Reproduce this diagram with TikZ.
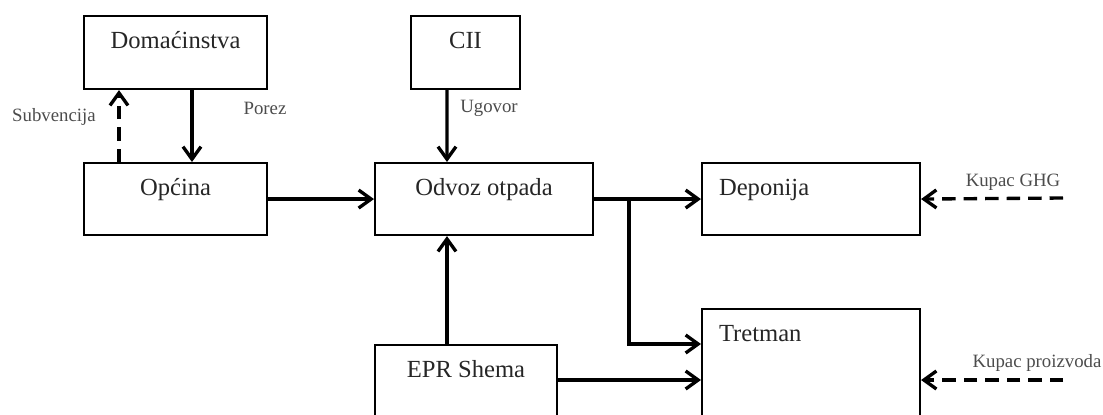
\documentclass[tikz,border=0pt]{standalone}
\usepackage{fontspec}
\setmainfont{Liberation Serif}
\usepackage{tikz}
\usetikzlibrary{arrows.meta,calc}

\begin{document}
\begin{tikzpicture}[x=0.02cm,y=-0.02cm,
        box/.style={draw,line width=1.2pt,inner sep=0pt,text height=0.64cm,text depth=0.82cm,
            font=\fontsize{14}{16}\selectfont,text=black!85},
        lbox/.style={box,align=left,inner xsep=0.34cm,text width=3.68cm},
        arr/.style={line width=1.9pt,-{Straight Barb[length=0.25cm,width=0.36cm]}},
        dasharr/.style={arr,dash pattern=on 0.27cm off 0.16cm},
        lab/.style={font=\fontsize{10.7}{12}\selectfont,text=black!70}]
    \useasboundingbox (0,0) rectangle (1103,414);
    \clip (0,0) rectangle (1103,414);
    % boxes
    \node[box,minimum width=3.66cm,anchor=north west] (dom) at (83,15) {Domaćinstva};
    \node[box,minimum width=2.18cm,anchor=north west] (cii) at (410,15) {CII};
    \node[box,minimum width=3.66cm,anchor=north west,text depth=0.8cm] (op) at (83,162) {Općina};
    \node[box,minimum width=4.36cm,anchor=north west,text depth=0.8cm] (odv) at (374,162) {Odvoz otpada};
    \node[lbox,anchor=north west,text depth=0.8cm] (dep) at (701,162) {Deponija};
    \node[lbox,anchor=north west,text depth=2.6cm] (tret) at (701,308) {Tretman};
    \node[box,minimum width=3.64cm,anchor=north west,text depth=2.6cm] (epr) at (374,344) {EPR Shema};
    % free ends
    \coordinate (ghg) at (1063,198);
    \coordinate (proiz) at (1063,380);
    % connectors
    \draw[dasharr] ([xshift=0.72cm]op.north west) -- ([xshift=0.72cm]dom.south west);
    \draw[arr] ([xshift=2.18cm]dom.south west) -- ([xshift=2.18cm]op.north west);
    \draw[arr] (op.east) -- (odv.west);
    \draw[arr] ([xshift=0.74cm]cii.south west) -- ([xshift=1.46cm]odv.north west);
    \draw[arr] ([xshift=1.46cm]epr.north west) -- ([xshift=1.46cm]odv.south west);
    \draw[arr] (odv.east) -- (dep.west);
    \draw[arr] ([xshift=0.7cm]odv.east) |- ([yshift=-0.72cm]tret.north west);
    \draw[arr] ([yshift=-0.72cm]epr.north east) coordinate (e) -- (e -| tret.west);
    \draw[dasharr] (ghg) -- (dep.east);
    \draw[dasharr] (proiz) -- (proiz -| tret.east);
    % labels
    \node[lab] (sub) at (54,117) {Subvencija};
    \node[lab] (por) at (265,108) {Porez};
    \node[lab] (ugo) at (489,108) {Ugovor};
    \node[lab] (kghg) at (1013,182) {Kupac GHG};
    \node[lab] (kpro) at (1037,363) {Kupac proizvoda};
\end{tikzpicture}
\end{document}
